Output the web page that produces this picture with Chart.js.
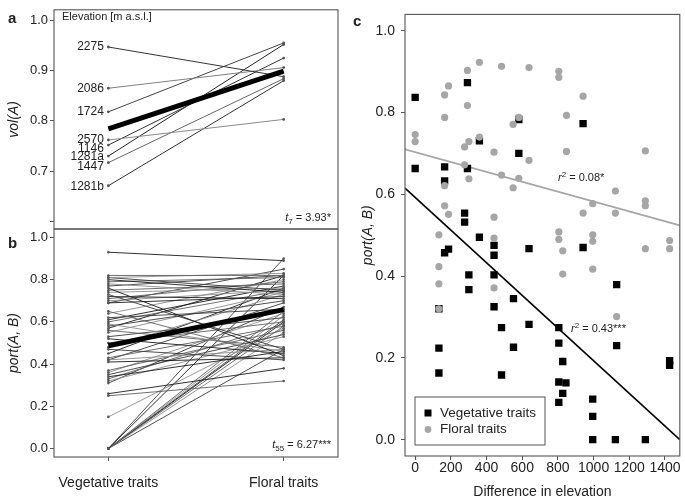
<!DOCTYPE html>
<html><head><meta charset="utf-8">
<script src="https://cdn.jsdelivr.net/npm/chart.js@4"></script>
<style>
html,body{margin:0;padding:0;background:#fff;}
#wrap{position:relative;width:685px;height:502px;overflow:hidden;font-family:"Liberation Sans",Arial,Helvetica,sans-serif;color:#222;}
canvas{position:absolute;left:0;top:0;}
.t{position:absolute;white-space:nowrap;line-height:1;color:#222;}
.sm{font-size:11px;}
.sub{font-size:8px;position:relative;top:3px;}
.sup{font-size:8px;position:relative;top:-4px;}
</style></head><body>
<div id="wrap">
<canvas id="ca" width="685" height="502"></canvas>
<canvas id="cb" width="685" height="502"></canvas>
<canvas id="cc" width="685" height="502"></canvas>
<div class="t" style="left:8px;top:10px;font-weight:bold;font-size:15px">a</div>
<div class="t" style="left:8px;top:235px;font-weight:bold;font-size:15px">b</div>
<div class="t" style="left:353px;top:13px;font-weight:bold;font-size:15px">c</div>
<div class="t sm" style="left:62px;top:10.5px">Elevation [m a.s.l.]</div>
<div class="t sm" style="right:354px;top:212px"><i>t</i><span class="sub">7</span> = 3.93*</div>
<div class="t sm" style="right:354px;top:439px"><i>t</i><span class="sub">55</span> = 6.27***</div>
<div class="t sm" style="left:558px;top:171.5px"><i>r</i><span class="sup">2</span> = 0.08*</div>
<div class="t sm" style="left:571px;top:322.5px"><i>r</i><span class="sup">2</span> = 0.43***</div>
</div>
<script>
// ---------------- DATA ----------------
const traitCategories = ['Vegetative traits', 'Floral traits'];

// panel a
const elevationSites = ['2275', '2086', '1724', '2570', '1146', '1281a', '1447', '1281b'];
const volVegetative = [0.947, 0.865, 0.818, 0.762, 0.752, 0.730, 0.717, 0.671];
const volFloral     = [0.888, 0.906, 0.955, 0.803, 0.925, 0.952, 0.884, 0.880];
const volMean = [0.784, 0.899];
const volTicks = [0.6, 0.7, 0.8, 0.9, 1.0];
const volTickLabels = ['', '0.7', '0.8', '0.9', '1.0'];

// panel b
const portVegetative = [0.93, 0.82, 0.81, 0.81, 0.80, 0.79, 0.78, 0.77, 0.76, 0.75,
  0.74, 0.73, 0.72, 0.71, 0.70, 0.69, 0.69, 0.65, 0.64, 0.62,
  0.61, 0.60, 0.59, 0.58, 0.57, 0.56, 0.55, 0.53, 0.52, 0.50,
  0.48, 0.47, 0.45, 0.43, 0.42, 0.42, 0.41, 0.37, 0.36, 0.35,
  0.34, 0.33, 0.32, 0.31, 0.26, 0.25, 0.15, 0.00, 0.00, 0.00,
  0.00, 0.00, 0.00, 0.00, 0.00, 0.00];
const portFloral = [0.89, 0.82, 0.83, 0.75, 0.74, 0.81, 0.73, 0.82, 0.44, 0.78,
  0.76, 0.47, 0.71, 0.79, 0.75, 0.85, 0.72, 0.43, 0.80, 0.66,
  0.77, 0.75, 0.46, 0.70, 0.82, 0.48, 0.74, 0.62, 0.45, 0.60,
  0.73, 0.42, 0.76, 0.58, 0.47, 0.69, 0.43, 0.56, 0.64, 0.54,
  0.46, 0.59, 0.53, 0.67, 0.38, 0.32, 0.57, 0.90, 0.82, 0.65,
  0.63, 0.61, 0.60, 0.58, 0.55, 0.47];
const portMean = [0.487, 0.658];
const portTicks = [0, 0.2, 0.4, 0.6, 0.8, 1.0];
const portTickLabels = ['0.0', '0.2', '0.4', '0.6', '0.8', '1.0'];

// panel c
const vegElevDiff = [0, 0, 293, 165, 165, 293, 360, 581, 581, 941, 277, 277, 360, 442, 442, 638, 941, 165, 187, 301,
  301, 442, 442, 551, 484, 638, 551, 484, 133, 133, 133, 805, 805, 827, 805, 845, 827, 805, 995, 995,
  995, 1122, 1290, 1129, 1129, 1426, 1426];
const vegPort = [0.837, 0.663, 0.873, 0.667, 0.633, 0.663, 0.731, 0.783, 0.700, 0.773, 0.554, 0.532, 0.495, 0.475, 0.451, 0.467, 0.470, 0.457, 0.466, 0.403,
  0.367, 0.403, 0.325, 0.345, 0.274, 0.282, 0.226, 0.158, 0.224, 0.163, 0.320, 0.274, 0.236, 0.191, 0.141, 0.139, 0.113, 0.091, 0.099, 0.057,
  0.0, 0.0, 0.0, 0.379, 0.230, 0.193, 0.182];
const floralElevDiff = [0, 0, 165, 187, 293, 360, 484, 638, 805, 805, 165, 293, 581, 549, 848, 941, 360, 301, 277, 442,
  638, 848, 277, 301, 484, 581, 549, 165, 1290, 1122, 995, 1290, 1290, 941, 1122, 165, 187, 442, 133, 442,
  805, 805, 995, 995, 827, 1426, 1426, 1290, 133, 133, 442, 827, 995, 1129, 133];
const floralPort = [0.746, 0.729, 0.843, 0.865, 0.903, 0.923, 0.913, 0.910, 0.901, 0.886, 0.788, 0.817, 0.788, 0.771, 0.793, 0.840, 0.740, 0.729, 0.716, 0.703,
  0.683, 0.705, 0.672, 0.638, 0.647, 0.639, 0.616, 0.621, 0.706, 0.608, 0.577, 0.584, 0.572, 0.554, 0.554, 0.572, 0.551, 0.544, 0.501, 0.493,
  0.508, 0.490, 0.501, 0.485, 0.462, 0.487, 0.467, 0.467, 0.423, 0.381, 0.371, 0.405, 0.417, 0.301, 0.320];
const fitX = [-57, 1483];
const vegFit = [0.615, 0.0];
const floralFit = [0.710, 0.524];
const elevTicks = [0, 200, 400, 600, 800, 1000, 1200, 1400];
const cTicks = [0, 0.2, 0.4, 0.6, 0.8, 1.0];
const cTickLabels = ['0.0', '0.2', '0.4', '0.6', '0.8', '1.0'];

// ---------------- STYLE ----------------
const FONT = '"Liberation Sans", Arial, Helvetica, sans-serif';
Chart.defaults.font.family = FONT;
Chart.defaults.color = '#222';
const AXIS = '#555';
const volLineColors = ['#333', '#808080', '#444', '#8a8a8a', '#333', '#222', '#666', '#333'];
const portShades = ['#1a1a1a', '#606060', '#8c8c8c', '#3a3a3a'];
const siteLabelNudge = [0, 0, 0, 0, 3.5, 0.6, 4.3, 1];

const boxPlugin = {
  id: 'box',
  afterDraw(chart) {
    const {ctx, chartArea: a} = chart;
    ctx.save();
    ctx.strokeStyle = AXIS; ctx.lineWidth = 1.1;
    ctx.strokeRect(a.left, a.top, a.right - a.left, a.bottom - a.top);
    ctx.restore();
  }
};

const siteLabelPlugin = {
  id: 'siteLabels',
  afterDatasetsDraw(chart) {
    const {ctx} = chart;
    const xs = chart.scales.x, ys = chart.scales.y;
    ctx.save();
    ctx.font = '12px ' + FONT;
    ctx.fillStyle = '#222';
    ctx.textAlign = 'right';
    ctx.textBaseline = 'middle';
    const x = xs.getPixelForValue(0) - 4.5;
    elevationSites.forEach((s, i) => {
      ctx.fillText(s, x, ys.getPixelForValue(volVegetative[i]) + siteLabelNudge[i]);
    });
    ctx.restore();
  }
};

const legendPlugin = {
  id: 'boxLegend',
  afterDraw(chart) {
    const {ctx} = chart;
    const items = chart.data.datasets.filter(d => d.inLegend);
    items.sort((p, q) => p.legendRank - q.legendRank);
    const L = 415, T = 397, W = 130, H = 48;
    ctx.save();
    ctx.fillStyle = '#fff';
    ctx.fillRect(L, T, W, H);
    ctx.strokeStyle = AXIS; ctx.lineWidth = 1;
    ctx.strokeRect(L, T, W, H);
    ctx.font = '13.5px ' + FONT;
    ctx.textAlign = 'left'; ctx.textBaseline = 'middle';
    items.forEach((d, i) => {
      const y = T + 16 + i * 16.5;
      ctx.fillStyle = d.backgroundColor;
      if (d.pointStyle === 'rect') ctx.fillRect(428 - 3.5, y - 3.5, 7, 7);
      else { ctx.beginPath(); ctx.arc(428, y, 3.4, 0, Math.PI * 2); ctx.fill(); }
      ctx.fillStyle = '#222';
      ctx.fillText(d.label, 440, y);
    });
    ctx.restore();
  }
};

function yScale(min, max, ticks, labels, title, fontSize, width, pad) {
  return {
    type: 'linear', min, max,
    afterFit: s => { s.width = width; },
    afterBuildTicks: s => { s.ticks = ticks.map(v => ({value: v})); },
    ticks: {font: {size: fontSize}, color: '#222', padding: pad, callback: (v, i) => labels[i]},
    grid: {drawOnChartArea: false, drawTicks: true, tickLength: 4, color: AXIS},
    border: {display: false},
    title: {display: true, text: title, font: {size: 14, style: 'italic'}, color: '#222', padding: 0}
  };
}

function baseOptions(padding) {
  return {
    responsive: false, animation: false, events: [], devicePixelRatio: 1,
    layout: {padding},
    plugins: {legend: {display: false}, tooltip: {enabled: false}},
    elements: {line: {tension: 0}}
  };
}

// ---------------- PANEL A ----------------
const aDatasets = elevationSites.map((s, i) => ({
  label: s,
  data: [{x: 0, y: volVegetative[i]}, {x: 1, y: volFloral[i]}],
  borderColor: volLineColors[i], borderWidth: 1,
  pointRadius: 1.4, pointBackgroundColor: '#555', pointBorderWidth: 0
}));
aDatasets.push({
  label: 'Mean', order: -1,
  data: [{x: 0, y: volMean[0]}, {x: 1, y: volMean[1]}],
  borderColor: '#000', borderWidth: 5, pointRadius: 0, borderCapStyle: 'butt'
});
new Chart(document.getElementById('ca'), {
  type: 'line',
  data: {datasets: aDatasets},
  options: Object.assign(baseOptions({left: 6, top: 4, right: 347, bottom: 273}), {
    scales: {
      x: {type: 'linear', display: false, min: -0.31, max: 1.31},
      y: yScale(0.585, 1.021, volTicks, volTickLabels, 'vol(A)', 13, 48, 2)
    }
  }),
  plugins: [boxPlugin, siteLabelPlugin]
});

// ---------------- PANEL B ----------------
const bDatasets = portVegetative.map((v, i) => ({
  label: 'pair ' + (i + 1),
  data: [{x: 0, y: v}, {x: 1, y: portFloral[i]}],
  borderColor: portShades[i % portShades.length], borderWidth: 0.9,
  pointRadius: 1.3, pointBackgroundColor: '#555', pointBorderWidth: 0
}));
bDatasets.push({
  label: 'Mean', order: -1,
  data: [{x: 0, y: portMean[0]}, {x: 1, y: portMean[1]}],
  borderColor: '#000', borderWidth: 5, pointRadius: 0, borderCapStyle: 'butt'
});
new Chart(document.getElementById('cb'), {
  type: 'line',
  data: {datasets: bDatasets},
  options: Object.assign(baseOptions({left: 6, top: 229, right: 347, bottom: 5}), {
    scales: {
      x: {
        type: 'linear', min: -0.31, max: 1.31,
        afterFit: s => { s.height = 40; },
        afterBuildTicks: s => { s.ticks = [0, 1].map(v => ({value: v})); },
        ticks: {font: {size: 14}, color: '#222', padding: 13.5, maxRotation: 0, autoSkip: false,
          callback: (v, i) => traitCategories[i]},
        grid: {drawOnChartArea: false, drawTicks: true, tickLength: 4, color: AXIS},
        border: {display: false}
      },
      y: yScale(-0.04, 1.04, portTicks, portTickLabels, 'port(A, B)', 13, 48, 2)
    }
  }),
  plugins: [boxPlugin]
});

// ---------------- PANEL C ----------------
const cDatasets = [
  {
    label: 'Floral traits', inLegend: true, legendRank: 1, order: 0,
    data: floralElevDiff.map((x, i) => ({x, y: floralPort[i]})),
    pointStyle: 'circle', pointRadius: 3.6, backgroundColor: '#a6a6a6', borderWidth: 0, showLine: false
  },
  {
    label: 'Vegetative traits', inLegend: true, legendRank: 0, order: 1,
    data: vegElevDiff.map((x, i) => ({x, y: vegPort[i]})),
    pointStyle: 'rect', pointRadius: 5.2, backgroundColor: '#000', borderWidth: 0, showLine: false
  },
  {
    label: 'Vegetative fit', order: 2, showLine: true, pointRadius: 0,
    data: fitX.map((x, i) => ({x, y: vegFit[i]})),
    borderColor: '#000', borderWidth: 1.6
  },
  {
    label: 'Floral fit', order: 3, showLine: true, pointRadius: 0,
    data: fitX.map((x, i) => ({x, y: floralFit[i]})),
    borderColor: '#a6a6a6', borderWidth: 1.6
  }
];
new Chart(document.getElementById('cc'), {
  type: 'scatter',
  data: {datasets: cDatasets},
  options: Object.assign(baseOptions({left: 360, top: 4, right: 5, bottom: 1}), {
    scales: {
      x: {
        type: 'linear', min: -57, max: 1483,
        afterFit: s => { s.height = 45; },
        afterBuildTicks: s => { s.ticks = elevTicks.map(v => ({value: v})); },
        ticks: {font: {size: 14}, color: '#222', padding: 0, maxRotation: 0, autoSkip: false,
          callback: (v, i) => String(elevTicks[i])},
        grid: {drawOnChartArea: false, drawTicks: true, tickLength: 4, color: AXIS},
        border: {display: false},
        title: {display: true, text: 'Difference in elevation', font: {size: 14}, color: '#222', padding: 0}
      },
      y: yScale(-0.04, 1.04, cTicks, cTickLabels, 'port(A, B)', 14, 45, 6)
    }
  }),
  plugins: [boxPlugin, legendPlugin]
});
</script>
</body></html>
